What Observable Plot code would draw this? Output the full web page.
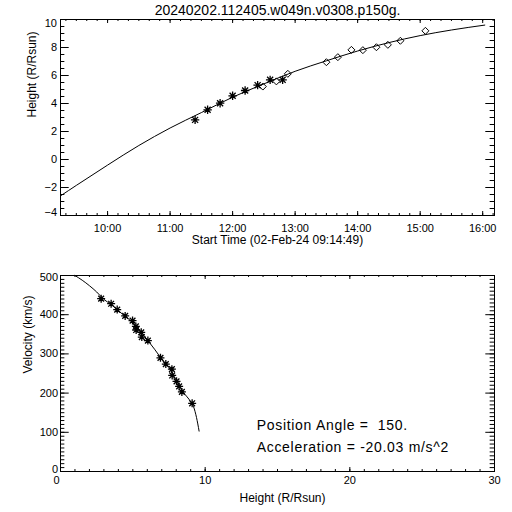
<!DOCTYPE html>
<html>
<head>
<meta charset="utf-8">
<script src="https://cdn.jsdelivr.net/npm/d3@7"></script>
<script src="https://cdn.jsdelivr.net/npm/@observablehq/plot@0.6"></script>
<style>
  html, body { margin: 0; padding: 0; background: #fff; }
  #wrap { position: relative; width: 512px; height: 512px; background: #fff; overflow: hidden; }
  #wrap svg { position: absolute; left: 0; display: block; }
</style>
</head>
<body>
<div id="wrap"></div>
<script>
// ---------------- DATA ----------------
const titleText = "20240202.112405.w049n.v0308.p150g.";
const topXLabel = "Start Time (02-Feb-24 09:14:49)";
const topYLabel = "Height (R/Rsun)";
const botXLabel = "Height (R/Rsun)";
const botYLabel = "Velocity (km/s)";
const annot1 = "Position Angle =  150.";
const annot2 = "Acceleration = -20.03 m/s^2";

const startTime = "09:14:49";
const endTime = "16:11:20";

// height-time: asterisk series
const starTimes = ["11:24", "11:36", "11:48", "12:00", "12:12", "12:24", "12:36", "12:48"];
const starHeights = [2.83, 3.55, 4.02, 4.55, 4.93, 5.31, 5.69, 5.69];
// height-time: diamond series
const diaTimes = ["12:29", "12:42", "12:53", "13:30", "13:41", "13:54", "14:05", "14:18", "14:29", "14:41", "15:05"];
const diaHeights = [5.21, 5.58, 6.12, 6.95, 7.31, 7.83, 7.81, 8.02, 8.19, 8.48, 9.19];
// height-time fit line
const fitTimes = ["09:14:49", "09:30", "10:00", "10:30", "11:00", "11:30", "12:00", "12:30", "13:00", "13:30", "14:00", "14:30", "15:00", "15:30", "16:02"];
const fitHeights = [-2.60, -1.85, -0.40, 1.00, 2.25, 3.35, 4.45, 5.40, 6.30, 7.05, 7.75, 8.35, 8.85, 9.25, 9.60];

// velocity-height points
const velH = [2.81, 3.50, 3.92, 4.47, 4.98, 5.21, 5.23, 5.58, 5.62, 6.04, 6.91, 7.28, 7.70, 7.72, 8.02, 8.20, 8.39, 9.10];
const velV = [441, 428, 413, 397, 385, 370, 361, 355, 343, 334, 290, 274, 261, 245, 230, 217, 203, 174];
// velocity-height fit line
const vfitH = [1.0, 1.5, 2.0, 2.5, 3.0, 3.5, 4.0, 4.5, 5.0, 5.5, 6.0, 6.5, 7.0, 7.5, 8.0, 8.5, 9.0, 9.2, 9.4, 9.58];
const vfitV = [500, 488, 474, 458, 439, 426, 410, 395, 380, 359, 336, 312, 287, 265, 233, 202, 178, 165, 138, 103];

// tick labels
const topXTicks = ["10:00", "11:00", "12:00", "13:00", "14:00", "15:00", "16:00"];
const topYTicks = [-4, -2, 0, 2, 4, 6, 8, 10];
const botXTicks = [0, 10, 20, 30];
const botYTicks = [0, 100, 200, 300, 400, 500];

// ---------------- HELPERS ----------------
const hrs = s => { const p = s.split(":").map(Number); return p[0] + (p[1] || 0) / 60 + (p[2] || 0) / 3600; };
const FONT = "Liberation Sans, Arial, Helvetica, sans-serif";
const W = 512, H = 256, ML = 60, MR = 18, MT = 19, MB = 41;
const FW = W - ML - MR, FH = H - MT - MB;

const star8 = {draw(ctx, size) {
  const r = Math.sqrt(size / Math.PI), d = r * 0.72;
  ctx.moveTo(-r, 0); ctx.lineTo(r, 0);
  ctx.moveTo(0, -r); ctx.lineTo(0, r);
  ctx.moveTo(-d, -d); ctx.lineTo(d, d);
  ctx.moveTo(-d, d); ctx.lineTo(d, -d);
}};
const dia = {draw(ctx, size) {
  const r = Math.sqrt(size / Math.PI);
  ctx.moveTo(0, -r); ctx.lineTo(r, 0); ctx.lineTo(0, r); ctx.lineTo(-r, 0); ctx.closePath();
}};

function frameTicks(xMaj, xMin, yMaj, yMin) {
  const xl = 4, yl = 8.7;
  return [
    Plot.tickX(xMin, {x: d => d, insetTop: FH - xl / 2, stroke: "#000"}),
    Plot.tickX(xMin, {x: d => d, insetBottom: FH - xl / 2, stroke: "#000"}),
    Plot.tickX(xMaj, {x: d => d, insetTop: FH - xl, stroke: "#000"}),
    Plot.tickX(xMaj, {x: d => d, insetBottom: FH - xl, stroke: "#000"}),
    Plot.tickY(yMin, {y: d => d, insetRight: FW - yl / 2, stroke: "#000"}),
    Plot.tickY(yMin, {y: d => d, insetLeft: FW - yl / 2, stroke: "#000"}),
    Plot.tickY(yMaj, {y: d => d, insetRight: FW - yl, stroke: "#000"}),
    Plot.tickY(yMaj, {y: d => d, insetLeft: FW - yl, stroke: "#000"}),
    Plot.frame({stroke: "#000"})
  ];
}

const txt = {fontFamily: FONT, fill: "#000"};

// ---------------- TOP: height vs time ----------------
const stars = starTimes.map((t, i) => ({t: hrs(t), h: starHeights[i]}));
const dias = diaTimes.map((t, i) => ({t: hrs(t), h: diaHeights[i]}));
const fit = fitTimes.map((t, i) => ({t: hrs(t), h: fitHeights[i]}));
const xMajT = topXTicks.map(hrs);
const xMinT = d3.range(Math.ceil(hrs(startTime) * 6), Math.floor(hrs(endTime) * 6) + 1).map(k => k / 6);
const yMinT = d3.range(-4, 10.001, 0.5);

const topPlot = Plot.plot({
  width: W, height: H, marginLeft: ML, marginRight: MR, marginTop: MT, marginBottom: MB,
  style: {background: "#fff", fontFamily: FONT},
  x: {domain: [hrs(startTime), hrs(endTime)], axis: null},
  y: {domain: [-4, 10], axis: null},
  marks: [
    ...frameTicks(xMajT, xMinT, topYTicks, yMinT),
    Plot.line(fit, {x: "t", y: "h", stroke: "#000", strokeWidth: 1, curve: "monotone-x"}),
    Plot.dot(stars, {x: "t", y: "h", symbol: star8, r: 4.2, stroke: "#000", strokeWidth: 1.3, fill: "none"}),
    Plot.dot(dias, {x: "t", y: "h", symbol: dia, r: 3.5, stroke: "#000", strokeWidth: 1, fill: "none"}),
    Plot.text(topXTicks, {x: d => hrs(d), text: d => d, frameAnchor: "bottom", dy: 12.5, lineAnchor: "middle", fontSize: 11, ...txt}),
    Plot.text(topYTicks.filter(d => d > -4 && d < 10), {y: d => d, text: d => d < 0 ? "\u2212" + (-d) : String(d), frameAnchor: "left", dx: -3.5, textAnchor: "end", lineAnchor: "middle", fontSize: 11, ...txt}),
    Plot.text([10], {y: d => d, text: d => String(d), frameAnchor: "left", dx: -3.5, dy: 3.8, textAnchor: "end", lineAnchor: "middle", fontSize: 11, ...txt}),
    Plot.text([-4], {y: d => d, text: d => "\u2212" + (-d), frameAnchor: "left", dx: -3.5, dy: -3.5, textAnchor: "end", lineAnchor: "middle", fontSize: 11, ...txt}),
    Plot.text([titleText], {frameAnchor: "top", dy: -8.5, lineAnchor: "middle", fontSize: 14, ...txt}),
    Plot.text([topXLabel], {frameAnchor: "bottom", dy: 24.5, lineAnchor: "middle", fontSize: 12, ...txt}),
    Plot.text([topYLabel], {frameAnchor: "left", dx: -28.5, rotate: -90, lineAnchor: "middle", fontSize: 12, ...txt})
  ]
});
topPlot.style.top = "0px";

// ---------------- BOTTOM: velocity vs height ----------------
const vel = velH.map((h, i) => ({h, v: velV[i]}));
const vfit = vfitH.map((h, i) => ({h, v: vfitV[i]}));

const botPlot = Plot.plot({
  width: W, height: H, marginLeft: ML, marginRight: MR, marginTop: MT, marginBottom: MB,
  style: {background: "#fff", fontFamily: FONT},
  x: {domain: [0, 30], axis: null},
  y: {domain: [0, 500], axis: null},
  marks: [
    ...frameTicks(botXTicks, d3.range(0, 31, 1), botYTicks, d3.range(0, 501, 10)),
    Plot.line(vfit, {x: "h", y: "v", stroke: "#000", strokeWidth: 1, curve: "monotone-x"}),
    Plot.dot(vel, {x: "h", y: "v", symbol: star8, r: 4.0, stroke: "#000", strokeWidth: 1.3, fill: "none"}),
    Plot.text(botXTicks.filter(d => d > 0), {x: d => d, text: d => String(d), frameAnchor: "bottom", dy: 9.2, lineAnchor: "middle", fontSize: 11, ...txt}),
    Plot.text([0], {x: d => d, text: d => String(d), frameAnchor: "bottom", dx: -4, dy: 9.2, lineAnchor: "middle", fontSize: 11, ...txt}),
    Plot.text(botYTicks.filter(d => d > 0 && d < 500), {y: d => d, text: d => String(d), frameAnchor: "left", dx: -2.5, textAnchor: "end", lineAnchor: "middle", fontSize: 11, ...txt}),
    Plot.text([500], {y: d => d, text: d => String(d), frameAnchor: "left", dx: -2.5, dy: 1.5, textAnchor: "end", lineAnchor: "middle", fontSize: 11, ...txt}),
    Plot.text([0], {y: d => d, text: d => String(d), frameAnchor: "left", dx: -2.5, dy: -2.5, textAnchor: "end", lineAnchor: "middle", fontSize: 11, ...txt}),
    Plot.text([botXLabel], {frameAnchor: "bottom", dx: 5, dy: 26.5, lineAnchor: "middle", fontSize: 12, ...txt}),
    Plot.text([botYLabel], {frameAnchor: "left", dx: -32.5, rotate: -90, lineAnchor: "middle", fontSize: 12, ...txt}),
    Plot.text([annot1], {x: 13.56, y: 117, textAnchor: "start", lineAnchor: "middle", fontSize: 14, ...txt}),
    Plot.text([annot2], {x: 13.56, y: 61, textAnchor: "start", lineAnchor: "middle", fontSize: 14, ...txt})
  ]
});
botPlot.style.top = "256px";

const wrap = document.getElementById("wrap");
wrap.appendChild(topPlot);
wrap.appendChild(botPlot);
// letter spacing for the annotation texts (Hershey-like wide glyphs)
botPlot.querySelectorAll("text").forEach(t => {
  if (t.textContent === annot1 || t.textContent === annot2) t.setAttribute("letter-spacing", "0.7");
});
</script>
</body>
</html>
